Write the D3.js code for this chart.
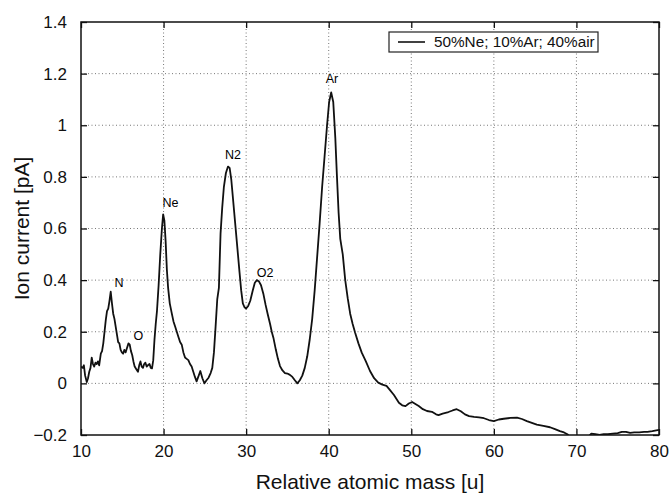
<!DOCTYPE html>
<html>
<head>
<meta charset="utf-8">
<title>Ion current spectrum</title>
<style>
  body { margin: 0; background: #fff; }
  svg text { font-family: "Liberation Sans", Arial, Helvetica, sans-serif; }
</style>
</head>
<body>
<svg width="671" height="493"></svg>
<script src="https://cdn.jsdelivr.net/npm/d3@7"></script>
<script>
// mass axis values [u]
var mass = [
  10.0, 10.2, 10.35, 10.5, 10.7, 10.85, 11.0, 11.15, 11.3, 11.45, 11.6, 11.75, 11.9, 12.05, 12.2, 12.4,
  12.55, 12.7, 12.85, 13.0, 13.15, 13.3, 13.45, 13.6, 13.75, 13.9, 14.05, 14.2, 14.35, 14.5, 14.65, 14.8,
  14.95, 15.1, 15.25, 15.4, 15.55, 15.75, 15.9, 16.05, 16.2, 16.35, 16.5, 16.7, 16.9, 17.05, 17.2, 17.35,
  17.5, 17.65, 17.8, 17.95, 18.1, 18.3, 18.45, 18.6, 18.75, 18.9, 19.05, 19.2, 19.4, 19.6, 19.8, 19.95,
  20.1, 20.25, 20.4, 20.55, 20.75, 21.0, 21.2, 21.4, 21.6, 21.8, 22.0, 22.2, 22.4, 22.6, 22.8, 23.0,
  23.2, 23.4, 23.6, 23.8, 24.0, 24.2, 24.45, 24.7, 24.95, 25.2, 25.45, 25.7, 25.9, 26.1, 26.3, 26.5,
  26.7, 26.9, 27.1, 27.3, 27.55, 27.8, 28.0, 28.2, 28.45, 28.7, 28.95, 29.2, 29.4, 29.6, 29.8, 30.0,
  30.25, 30.5, 30.8, 31.05, 31.3, 31.55, 31.8, 32.1, 32.35, 32.6, 32.9, 33.1, 33.3, 33.6, 33.85, 34.1,
  34.4, 34.7, 35.0, 35.3, 35.6, 35.9, 36.2, 36.5, 36.8, 37.1, 37.4, 37.7, 38.0, 38.3, 38.6, 38.9,
  39.2, 39.5, 39.8, 40.05, 40.3, 40.55, 40.8, 41.0, 41.2, 41.4, 41.7, 42.0, 42.3, 42.6, 42.9, 43.2,
  43.6, 44.0, 44.5, 45.0, 45.5, 46.0, 46.5, 47.0, 47.4, 47.9, 48.5, 48.9, 49.3, 49.7, 50.1, 50.5,
  50.9, 51.4, 51.9, 52.5, 53.0, 53.3, 53.8, 54.5, 55.0, 55.5, 56.0, 56.5, 57.0, 57.6, 58.2, 58.8,
  59.4, 60.0, 60.6, 61.2, 62.0, 62.8, 63.4, 64.0, 64.6, 65.2, 66.0, 66.8, 67.4, 68.0, 68.5, 68.9,
  69.3, 69.6, 70.2, 70.8, 71.3, 71.5, 71.8, 72.3, 72.8, 73.3, 73.8, 74.4, 75.0, 75.5, 76.0, 76.5,
  77.0, 77.6, 78.2, 78.6, 79.2, 80.0
];
// ion current [pA]
var current = [
  0.065, 0.06, 0.07, 0.03, 0.005, 0.02, 0.045, 0.06, 0.10, 0.075, 0.065, 0.08, 0.075, 0.085, 0.07, 0.115,
  0.125, 0.155, 0.2, 0.245, 0.28, 0.29, 0.32, 0.355, 0.31, 0.27, 0.25, 0.22, 0.19, 0.16, 0.155, 0.13,
  0.12, 0.115, 0.13, 0.12, 0.135, 0.155, 0.15, 0.125, 0.11, 0.085, 0.065, 0.055, 0.045, 0.07, 0.085, 0.065,
  0.06, 0.075, 0.08, 0.065, 0.07, 0.075, 0.06, 0.058, 0.09, 0.17, 0.23, 0.28, 0.38, 0.5, 0.6, 0.655,
  0.63, 0.55, 0.44, 0.37, 0.31, 0.27, 0.24, 0.22, 0.2, 0.18, 0.16, 0.15, 0.12, 0.1, 0.095, 0.09,
  0.075, 0.065, 0.045, 0.025, 0.008, 0.025, 0.048, 0.02, 0.0, 0.012, 0.022, 0.04, 0.06, 0.12, 0.22, 0.325,
  0.37, 0.58, 0.68, 0.76, 0.815, 0.84, 0.835, 0.79, 0.70, 0.61, 0.52, 0.43, 0.36, 0.31, 0.295, 0.29,
  0.3, 0.32, 0.36, 0.39, 0.40, 0.395, 0.38, 0.345, 0.305, 0.27, 0.23, 0.2, 0.177, 0.13, 0.095, 0.067,
  0.05, 0.04, 0.038, 0.033, 0.025, 0.012, 0.0, 0.012, 0.03, 0.06, 0.105, 0.17, 0.25, 0.36, 0.49, 0.62,
  0.76, 0.88, 1.0, 1.09, 1.127, 1.09, 0.95, 0.8, 0.66, 0.56, 0.5, 0.40, 0.33, 0.27, 0.23, 0.196,
  0.155, 0.119, 0.085, 0.048, 0.02, 0.003, -0.005, -0.01, -0.025, -0.045, -0.075, -0.085, -0.088, -0.078, -0.072, -0.08,
  -0.088, -0.1, -0.107, -0.11, -0.12, -0.123, -0.117, -0.111, -0.105, -0.1, -0.108, -0.12, -0.127, -0.13, -0.132, -0.135,
  -0.142, -0.146, -0.14, -0.137, -0.134, -0.133, -0.138, -0.146, -0.153, -0.16, -0.165, -0.17, -0.177, -0.185, -0.19, -0.197,
  -0.21, -0.22, -0.23, -0.22, -0.21, -0.205, -0.195, -0.197, -0.2, -0.197, -0.197, -0.195, -0.193, -0.188, -0.188, -0.192,
  -0.19, -0.19, -0.188, -0.188, -0.185, -0.18
];
// peak annotations
var peakNames = ["N", "O", "Ne", "N2", "O2", "Ar"];
var peakX = [14.6, 16.95, 20.85, 28.4, 32.3, 40.4];
var peakY = [0.39, 0.185, 0.70, 0.885, 0.43, 1.18];

var xTicks = [10, 20, 30, 40, 50, 60, 70, 80];
var yTicks = [-0.2, 0, 0.2, 0.4, 0.6, 0.8, 1, 1.2, 1.4];
var seriesName = "50%Ne; 10%Ar; 40%air";

var marge = {top: 22, right: 12, bottom: 58, left: 81};
var svg = d3.select("svg");
var width = +svg.attr("width") - marge.left - marge.right;
var height = +svg.attr("height") - marge.top - marge.bottom;
var g = svg.append("g").attr("transform", "translate(" + marge.left + "," + marge.top + ")");

var x = d3.scaleLinear().domain([10, 80]).range([0, width]);
var y = d3.scaleLinear().domain([-0.2, 1.4]).range([height, 0]);

// dotted grid
g.append("g").selectAll("line").data(xTicks.slice(1, -1)).enter().append("line")
  .attr("x1", d => x(d)).attr("x2", d => x(d)).attr("y1", 0).attr("y2", height)
  .attr("stroke", "#777").attr("stroke-width", 1).attr("stroke-dasharray", "1,2.5");
g.append("g").selectAll("line").data(yTicks.slice(1, -1)).enter().append("line")
  .attr("y1", d => y(d)).attr("y2", d => y(d)).attr("x1", 0).attr("x2", width)
  .attr("stroke", "#777").attr("stroke-width", 1).attr("stroke-dasharray", "1,2.5");

// curve, clipped to plot box
svg.append("defs").append("clipPath").attr("id", "clip")
  .append("rect").attr("width", width).attr("height", height);
var pts = mass.map((m, i) => [m, current[i]]);
var line = d3.line().x(d => x(d[0])).y(d => y(d[1]));
g.append("path").datum(pts)
  .attr("clip-path", "url(#clip)")
  .attr("d", line)
  .attr("fill", "none").attr("stroke", "#111").attr("stroke-width", 1.8)
  .attr("stroke-linejoin", "round");

// axes (matlab style: inward ticks on all four sides)
function styleAxis(sel) {
  sel.select(".domain").remove();
  sel.selectAll(".tick line").attr("stroke", "#111").attr("stroke-width", 1.3);
  sel.selectAll(".tick text").attr("font-size", 17).attr("fill", "#111");
}
var fmt = d => d < 0 ? "\u2212" + Math.abs(d) : String(d);
g.append("g").attr("transform", "translate(0," + height + ")")
  .call(d3.axisBottom(x).tickValues(xTicks).tickSize(-6).tickPadding(10).tickFormat(fmt))
  .call(styleAxis);
g.append("g")
  .call(d3.axisTop(x).tickValues(xTicks).tickSize(-6).tickFormat(""))
  .call(styleAxis);
g.append("g")
  .call(d3.axisLeft(y).tickValues(yTicks).tickSize(-6).tickPadding(14).tickFormat(fmt))
  .call(styleAxis);
g.append("g").attr("transform", "translate(" + width + ",0)")
  .call(d3.axisRight(y).tickValues(yTicks).tickSize(-6).tickFormat(""))
  .call(styleAxis);

g.append("rect").attr("width", width).attr("height", height)
  .attr("fill", "none").attr("stroke", "#111").attr("stroke-width", 1.5);

// peak labels
g.append("g").selectAll("text").data(peakNames).enter().append("text")
  .attr("x", (d, i) => x(peakX[i]))
  .attr("y", (d, i) => y(peakY[i]))
  .attr("dy", "0.35em")
  .attr("text-anchor", "middle")
  .attr("font-size", 12.5)
  .attr("fill", "#000")
  .text(d => d);

// legend
var lg = g.append("g").attr("transform", "translate(" + (width - 270) + ",10)");
lg.append("rect").attr("width", 209).attr("height", 20)
  .attr("fill", "#fff").attr("stroke", "#222").attr("stroke-width", 1.2);
lg.append("line").attr("x1", 9).attr("x2", 36).attr("y1", 10).attr("y2", 10)
  .attr("stroke", "#111").attr("stroke-width", 1.6);
lg.append("text").attr("x", 45).attr("y", 10).attr("dy", "0.35em")
  .attr("font-size", 15.3).attr("fill", "#111").text(seriesName);

// axis titles
svg.append("text")
  .attr("x", marge.left + width / 2).attr("y", marge.top + height + 54)
  .attr("text-anchor", "middle").attr("font-size", 21).attr("fill", "#111")
  .text("Relative atomic mass [u]");
svg.append("text")
  .attr("transform", "translate(29," + (marge.top + height / 2) + ") rotate(-90)")
  .attr("text-anchor", "middle").attr("font-size", 21).attr("fill", "#111")
  .text("Ion current [pA]");
</script>
</body>
</html>
